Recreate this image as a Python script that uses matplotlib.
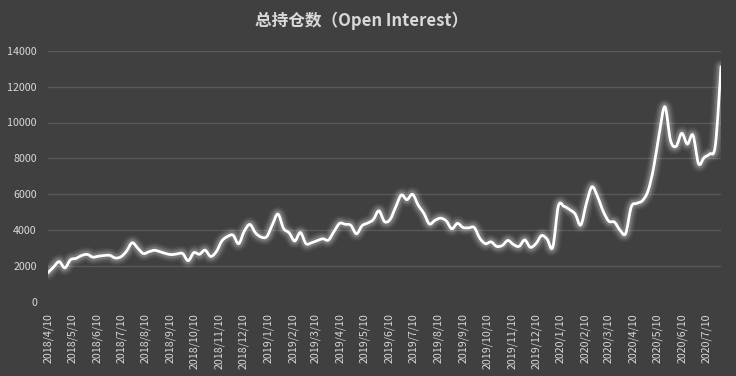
import matplotlib
matplotlib.use("Agg")
import matplotlib.pyplot as plt
import matplotlib.dates as mdates
from matplotlib.path import Path
from matplotlib.patches import PathPatch
import pandas as pd
import numpy as np

plt.rcParams['font.family'] = ['Noto Sans CJK SC', 'DejaVu Sans']

# Weekly (Tuesday) open interest, 2018-04-10 .. 2020-07-28
start_date = "2018-04-10"
n_weeks = 121
open_interest = [
    1630, 1950, 2250, 1900, 2350, 2430, 2590, 2650, 2500, 2550,
    2590, 2600, 2450, 2520, 2830, 3300, 3000, 2700, 2800, 2880,
    2800, 2700, 2640, 2680, 2700, 2300, 2750, 2660, 2890, 2540,
    2800, 3400, 3650, 3720, 3250, 3950, 4320, 3850, 3620, 3640,
    4300, 4900, 4100, 3850, 3400, 3870, 3250, 3300, 3420, 3520,
    3450, 3930, 4380, 4330, 4270, 3800, 4250, 4400, 4590, 5080,
    4480, 4600, 5300, 5960, 5700, 6000, 5400, 4950, 4350, 4550,
    4670, 4520, 4080, 4380, 4150, 4130, 4150, 3550, 3250, 3350,
    3100, 3150, 3430, 3200, 3100, 3460, 3050, 3250, 3700, 3500,
    3050, 5350, 5330, 5150, 4900, 4290, 5500, 6420, 5860, 5050,
    4500, 4450, 4000, 3820, 5300, 5500, 5650, 6200, 7500, 9400,
    10880, 9000, 8670, 9400, 8800, 9300, 7700, 8050, 8250, 8750,
    13100,
]
tick_labels = [
    "2018/4/10", "2018/5/10", "2018/6/10", "2018/7/10", "2018/8/10",
    "2018/9/10", "2018/10/10", "2018/11/10", "2018/12/10", "2019/1/10",
    "2019/2/10", "2019/3/10", "2019/4/10", "2019/5/10", "2019/6/10",
    "2019/7/10", "2019/8/10", "2019/9/10", "2019/10/10", "2019/11/10",
    "2019/12/10", "2020/1/10", "2020/2/10", "2020/3/10", "2020/4/10",
    "2020/5/10", "2020/6/10", "2020/7/10",
]
y_ticks = [0, 2000, 4000, 6000, 8000, 10000, 12000, 14000]
title = "总持仓数（Open Interest）"

dates = pd.date_range(start_date, periods=n_weeks, freq="7D")
tick_dates = pd.to_datetime(tick_labels, format="%Y/%m/%d")

bg = "#404040"
txt = "#d9d9d9"
grid = "#595959"

fig = plt.figure(figsize=(7.36, 3.76), dpi=100, facecolor=bg)
ax = fig.add_axes([48/736, 1-302/376, (721-48)/736, (302-50.7)/376], facecolor=bg)


def smooth_path(xs, ys):
    """Excel-style smoothed line: cubic Bezier segments through the data points."""
    pts = np.column_stack([xs, ys]).astype(float)
    n = len(pts)
    verts = [pts[0]]
    codes = [Path.MOVETO]
    for i in range(n - 1):
        p0 = pts[i - 1] if i > 0 else pts[i]
        p1 = pts[i]
        p2 = pts[i + 1]
        p3 = pts[i + 2] if i + 2 < n else pts[i + 1]
        c1 = p1 + (p2 - p0) / 6.0
        c2 = p2 - (p3 - p1) / 6.0
        verts += [c1, c2, p2]
        codes += [Path.CURVE4] * 3
    return Path(verts, codes)


xnum = mdates.date2num(dates.to_pydatetime())
path = smooth_path(xnum, open_interest)

# glow
for lw, a in [(11, 0.04), (9, 0.06), (7, 0.09), (5, 0.14)]:
    ax.add_patch(PathPatch(path, fill=False, edgecolor="white", lw=lw, alpha=a,
                           joinstyle="round", capstyle="round", zorder=3))
ax.add_patch(PathPatch(path, fill=False, edgecolor="white", lw=2.0,
                       joinstyle="round", capstyle="round", zorder=4))
# invisible line to register data with the axes
ax.plot(dates, open_interest, lw=0, alpha=0)

ax.set_xlim(dates[0], dates[-1])
ax.set_ylim(0, 14000)
ax.set_yticks(y_ticks)
ax.set_yticklabels([str(v) for v in y_ticks])
ax.set_xticks(tick_dates)
ax.set_xticklabels(tick_labels, rotation=90)

for y in y_ticks[1:]:
    ax.axhline(y, color=grid, lw=1.0, zorder=1)

for s in ax.spines.values():
    s.set_visible(False)
ax.tick_params(axis="both", length=0, colors=txt, labelsize=7.7)
ax.tick_params(axis="y", pad=8)
ax.tick_params(axis="x", pad=8)

fig.text(362/736, 1-21/376, title, ha="center", va="center",
         color=txt, fontsize=12, fontweight="bold")

fig.savefig("out.png", dpi=100, facecolor=bg)
